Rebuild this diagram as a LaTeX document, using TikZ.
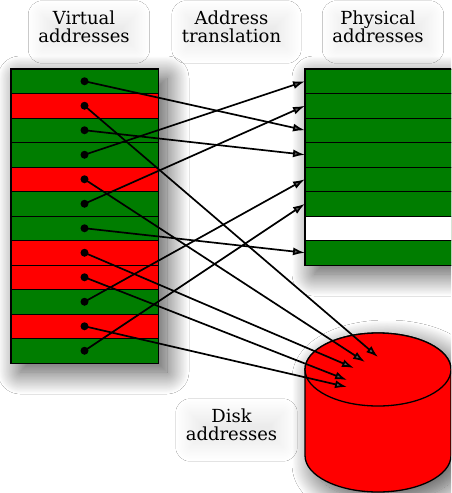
\documentclass[tikz,border=0pt]{standalone}
\usepackage{fontspec}
\setmainfont{DejaVu Serif}
\usetikzlibrary{arrows.meta,shadows.blur,shapes.geometric}
\definecolor{vg}{RGB}{0,125,0}
\definecolor{vr}{RGB}{255,0,0}
\definecolor{vw}{RGB}{255,255,255}
\begin{document}
\begin{tikzpicture}[x=1pt,y=-1pt,
  shade/.style={blur shadow={shadow xshift=9pt,shadow yshift=-9pt,shadow blur radius=22pt,shadow blur steps=30,shadow opacity=70}},
  softshade/.style={blur shadow={shadow xshift=5pt,shadow yshift=-5pt,shadow blur radius=14pt,shadow blur steps=30,shadow opacity=8}},
  vcell/.style={draw=black,line width=1pt,minimum width=147pt,minimum height=24.5pt,inner sep=0pt,outer sep=0pt},
  pcell/.style={draw=black,line width=1pt,minimum width=150pt,minimum height=24.5pt,inner sep=0pt,outer sep=0pt},
  lbl/.style={font=\fontsize{18}{18.5}\selectfont,align=center,inner sep=1pt},
  map/.style={line width=1.7pt,-{Latex[length=12pt,width=8pt]}},
  dotc/.style={fill=black}
]
\useasboundingbox (0,0) rectangle (451,493);
\clip (0,0) rectangle (451,493);
\fill[white] (0,0) rectangle (451,493);

% labels
\node[lbl,softshade] (hv) at (84,27) {Virtual\\addresses};
\node[lbl,softshade] (ht) at (231.5,27) {Address\\translation};
\node[lbl,softshade] (hp) at (378,27) {Physical\\addresses};
\node[lbl,softshade] (hd) at (231.5,425) {Disk\\addresses};

% virtual column
\node[draw=black,line width=1pt,minimum width=147pt,minimum height=294pt,inner sep=0pt,fill=vg,shade] (vcol) at (84.5,216) {};
\foreach \c [count=\i from 0] in {vg,vr,vg,vg,vr,vg,vg,vr,vr,vg,vr,vg}
  \node[vcell,fill=\c] (v\i) at (84.5,81.25+24.5*\i) {};
\draw[line width=1.3pt] (vcol.north west) rectangle (vcol.south east);

% physical column
\node[draw=black,line width=1pt,minimum width=150pt,minimum height=196pt,inner sep=0pt,fill=vg,shade] (pcol) at (380,167) {};
\foreach \c [count=\i from 0] in {vg,vg,vg,vg,vg,vg,vw,vg}
  \node[pcell,fill=\c] (p\i) at (380,81.25+24.5*\i) {};
\draw[line width=1.3pt] (pcol.north west) rectangle (pcol.south east);

% disk
\path[fill=vr,draw=black,line width=1.3pt,shade] (305,369.5) -- (305,455.5)
  arc[start angle=180,end angle=360,x radius=73pt,y radius=36.5pt]
  -- (451,369.5) arc[start angle=0,end angle=180,x radius=73pt,y radius=36.5pt] -- cycle;
\node[ellipse,draw=black,line width=1.3pt,fill=vr,minimum width=146pt,minimum height=73pt,inner sep=0pt] (disktop) at (378,369.5) {};

\coordinate (t1) at (378,357);
\coordinate (t4) at (365,362);
\coordinate (t7) at (354,368);
\coordinate (t8) at (347,380);
\coordinate (t10) at (347,387);

% dots
\foreach \i in {0,...,11}
  \fill[dotc] (v\i.center) circle[radius=4pt];

% mappings
\draw[map] (v0.center) -- (p2.west);
\draw[map] (v2.center) -- (p3.west);
\draw[map] (v3.center) -- (p0.west);
\draw[map] (v5.center) -- (p1.west);
\draw[map] (v6.center) -- (p7.west);
\draw[map] (v9.center) -- (p4.west);
\draw[map] (v11.center) -- (p5.west);
\draw[map] (v1.center) -- (t1);
\draw[map] (v4.center) -- (t4);
\draw[map] (v7.center) -- (t7);
\draw[map] (v8.center) -- (t8);
\draw[map] (v10.center) -- (t10);
\end{tikzpicture}
\end{document}
